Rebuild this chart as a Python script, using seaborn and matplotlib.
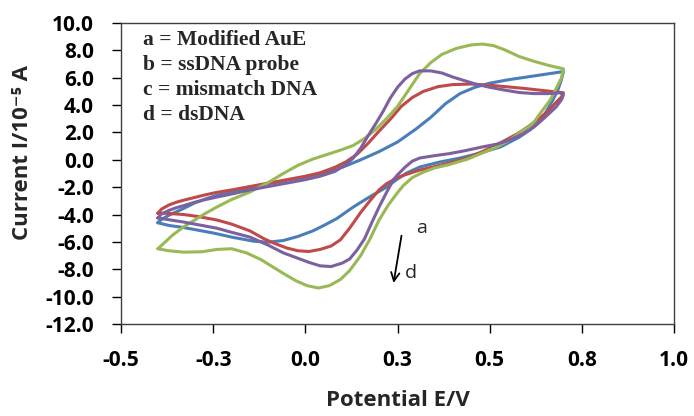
import seaborn as sns
import matplotlib.pyplot as plt
import pandas as pd

# cyclic voltammograms (E in V, I in 1e-5 A)
# each loop: left vertex -> forward (upper) branch -> right vertex -> reverse (lower) branch
E_a = [-0.40, -0.39, -0.37, -0.35, -0.33, -0.30, -0.27, -0.24, -0.20, -0.15, -0.10, -0.05, 0.0, 0.05,
       0.10, 0.15, 0.20, 0.25, 0.30, 0.34, 0.38, 0.42, 0.46, 0.50, 0.55, 0.60, 0.65, 0.70,
       0.695, 0.685, 0.67, 0.64, 0.61, 0.58, 0.53, 0.475, 0.42, 0.365, 0.31, 0.275, 0.25, 0.22,
       0.175, 0.13, 0.085, 0.05, 0.02, -0.02, -0.06, -0.10, -0.14, -0.20, -0.25, -0.29, -0.33,
       -0.37, -0.40]
I_a = [-4.6, -4.35, -4.05, -3.8, -3.55, -3.15, -2.85, -2.6, -2.35, -2.05, -1.75, -1.5, -1.25, -0.95,
       -0.55, 0.0, 0.6, 1.3, 2.25, 3.1, 4.1, 4.85, 5.3, 5.6, 5.85, 6.05, 6.25, 6.45,
       5.9, 5.1, 4.3, 2.9, 2.2, 1.65, 0.95, 0.5, 0.13, -0.16, -0.53, -0.96, -1.4, -2.0,
       -2.7, -3.45, -4.3, -4.8, -5.2, -5.6, -5.9, -6.02, -5.95, -5.65, -5.35, -5.15, -4.95,
       -4.8, -4.6]

E_b = [-0.40, -0.39, -0.37, -0.35, -0.33, -0.30, -0.27, -0.24, -0.20, -0.15, -0.10, -0.05, 0.0, 0.04,
       0.08, 0.11, 0.14, 0.17, 0.20, 0.23, 0.26, 0.29, 0.32, 0.36, 0.40, 0.45, 0.50, 0.55, 0.60,
       0.65, 0.70,
       0.695, 0.68, 0.66, 0.62, 0.575, 0.53, 0.48, 0.44, 0.39, 0.35, 0.31, 0.27, 0.25, 0.22, 0.20,
       0.175, 0.15, 0.12, 0.095, 0.07, 0.04, 0.01, -0.02, -0.05, -0.08, -0.11, -0.15, -0.20, -0.24,
       -0.29, -0.33, -0.37, -0.40]
I_b = [-3.9, -3.6, -3.3, -3.1, -2.95, -2.75, -2.55, -2.38, -2.2, -1.95, -1.7, -1.45, -1.2, -0.95,
       -0.55, -0.15, 0.4, 1.2, 2.1, 2.95, 3.9, 4.55, 5.0, 5.35, 5.5, 5.54, 5.45, 5.33, 5.2,
       5.05, 4.9,
       4.6, 4.2, 3.6, 2.7, 1.9, 1.25, 0.6, 0.13, -0.23, -0.5, -0.75, -1.1, -1.3, -1.75, -2.2,
       -3.0, -3.85, -5.0, -5.85, -6.3, -6.55, -6.7, -6.65, -6.45, -6.15, -5.8, -5.2, -4.7, -4.4,
       -4.15, -4.0, -3.92, -3.9]

E_c = [-0.40, -0.38, -0.36, -0.33, -0.30, -0.27, -0.24, -0.20, -0.15, -0.10, -0.06, -0.02, 0.02, 0.06,
       0.10, 0.13, 0.16, 0.19, 0.22, 0.25, 0.28, 0.31, 0.34, 0.37, 0.41, 0.45, 0.48, 0.51, 0.54,
       0.58, 0.62, 0.66, 0.70,
       0.695, 0.68, 0.665, 0.64, 0.62, 0.585, 0.555, 0.52, 0.48, 0.44, 0.39, 0.35, 0.32, 0.29, 0.265,
       0.25, 0.225, 0.20, 0.175, 0.15, 0.12, 0.095, 0.065, 0.035, 0.005, -0.025, -0.06, -0.09, -0.12,
       -0.16, -0.20, -0.24, -0.28, -0.33, -0.37, -0.40]
I_c = [-6.5, -6.0, -5.5, -4.9, -4.4, -3.9, -3.45, -2.9, -2.35, -1.65, -1.0, -0.4, 0.05, 0.4,
       0.75, 1.05, 1.55, 2.2, 3.0, 3.9, 5.1, 6.3, 7.1, 7.7, 8.15, 8.4, 8.46, 8.35, 8.05,
       7.55, 7.2, 6.9, 6.65,
       6.0, 5.2, 4.4, 3.5, 2.75, 2.05, 1.45, 0.95, 0.5, 0.05, -0.35, -0.6, -0.9, -1.3, -1.9,
       -2.4, -3.3, -4.4, -5.8, -7.0, -8.1, -8.75, -9.2, -9.37, -9.2, -8.85, -8.3, -7.8, -7.3,
       -6.8, -6.5, -6.55, -6.72, -6.75, -6.65, -6.5]

E_d = [-0.40, -0.39, -0.37, -0.35, -0.33, -0.30, -0.27, -0.24, -0.20, -0.15, -0.10, -0.05, 0.0, 0.04,
       0.08, 0.11, 0.13, 0.15, 0.17, 0.19, 0.21, 0.23, 0.25, 0.27, 0.29, 0.31, 0.34, 0.37, 0.40,
       0.43, 0.46, 0.50, 0.54, 0.58, 0.62, 0.66, 0.69, 0.70,
       0.695, 0.68, 0.65, 0.62, 0.59, 0.555, 0.52, 0.48, 0.43, 0.39, 0.35, 0.31, 0.29, 0.27, 0.25,
       0.238, 0.22, 0.20, 0.18, 0.16, 0.14, 0.12, 0.10, 0.07, 0.04, 0.01, -0.02, -0.06, -0.10, -0.15,
       -0.20, -0.24, -0.29, -0.33, -0.37, -0.40]
I_d = [-4.25, -3.95, -3.7, -3.5, -3.35, -3.1, -2.9, -2.72, -2.5, -2.2, -1.95, -1.7, -1.45, -1.2,
       -0.85, -0.35, 0.13, 0.85, 1.75, 2.6, 3.5, 4.5, 5.3, 5.9, 6.3, 6.5, 6.5, 6.35, 6.05,
       5.8, 5.55, 5.3, 5.1, 4.92, 4.84, 4.84, 4.9, 4.75,
       4.4, 3.86, 3.1, 2.4, 1.9, 1.45, 1.15, 0.94, 0.65, 0.45, 0.3, 0.13, -0.1, -0.55, -1.1,
       -1.48, -2.4, -3.45, -4.6, -5.8, -6.6, -7.25, -7.55, -7.8, -7.75, -7.5, -7.2, -6.8, -6.25, -5.65,
       -5.3, -5.0, -4.75, -4.55, -4.38, -4.25]

curves = [("a", E_a, I_a, "#4A7EBB"),
          ("b", E_b, I_b, "#BE4B48"),
          ("c", E_c, I_c, "#98B954"),
          ("d", E_d, I_d, "#7D60A0")]

legend_lines = ["a = Modified AuE", "b = ssDNA probe", "c = mismatch DNA", "d = dsDNA"]

x_ticks = [-0.5, -0.25, 0.0, 0.25, 0.5, 0.75, 1.0]
x_ticklabels = ["-0.5", "-0.3", "0.0", "0.3", "0.5", "0.8", "1.0"]
y_ticks = list(range(-12, 11, 2))

sns.set_style("white")
plt.rcParams['font.family'] = ['Open Sans', 'DejaVu Sans']

fig = plt.figure(figsize=(6.94, 4.16), dpi=100)
ax = fig.add_axes([0.1744, 0.2212, 0.7968, 0.7235])

for name, E, I, col in curves:
    df = pd.DataFrame({"E": E, "I": I})
    sns.lineplot(data=df, x="E", y="I", sort=False, estimator=None,
                 color=col, linewidth=2.2, ax=ax, solid_joinstyle="round")

ax.set_xlim(-0.5, 1.0)
ax.set_ylim(-12, 10)
ax.set_xticks(x_ticks)
ax.set_xticklabels(x_ticklabels)
ax.set_yticks(y_ticks)
ax.set_yticklabels([f"{v:.1f}" for v in y_ticks])
ax.tick_params(direction="out", length=6.5, width=1, colors="black",
               labelsize=15, bottom=True, left=True)
for lab in ax.get_xticklabels() + ax.get_yticklabels():
    lab.set_fontweight("bold")
ax.tick_params(axis="x", pad=12)
ax.tick_params(axis="y", pad=13)

for side in ["left", "bottom", "top", "right"]:
    ax.spines[side].set_color("#404040")
    ax.spines[side].set_linewidth(1.0)

ax.set_xlabel("Potential E/V", fontsize=16, fontweight="bold", labelpad=14)
ax.set_ylabel("Current I/10⁻⁵ A", fontsize=16, fontweight="bold")
ax.yaxis.set_label_coords(-0.16, 0.571)

for i, line in enumerate(legend_lines):
    ax.text(0.04, 0.977 - i * 0.0835, line, transform=ax.transAxes,
            family="Liberation Serif", fontweight="bold", fontsize=15.5,
            va="top", ha="left")

ax.annotate("", xy=(0.238, -9.2), xytext=(0.262, -5.35),
            arrowprops=dict(arrowstyle="->,head_length=0.6,head_width=0.3",
                            color="black", lw=1.3))
ax.text(0.30, -5.0, "a", fontsize=14, ha="left", va="center")
ax.text(0.27, -8.3, "d", fontsize=14, ha="left", va="center")

fig.savefig("out.png", dpi=100)
